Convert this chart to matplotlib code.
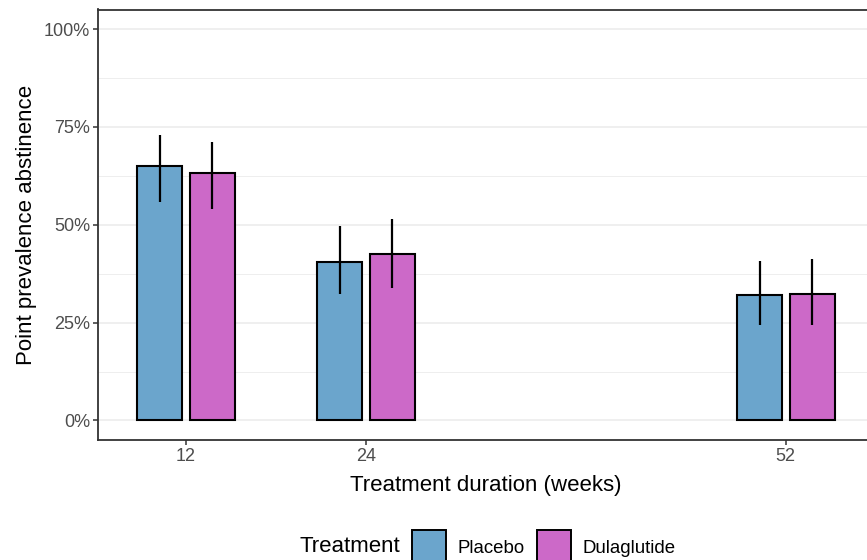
import matplotlib
matplotlib.use('Agg')
import matplotlib.pyplot as plt
from matplotlib.patches import Patch
from matplotlib.ticker import FixedLocator, FixedFormatter

plt.rcParams['font.family'] = ['Liberation Sans', 'DejaVu Sans']

weeks = [12, 24, 52]
week_labels = ['12', '24', '52']
treatments = ['Placebo', 'Dulaglutide']
colors = ['#6BA5CC', '#CC69C8']
placebo_mean = [0.650, 0.406, 0.320]
placebo_lo = [0.559, 0.322, 0.243]
placebo_hi = [0.729, 0.496, 0.408]
dula_mean = [0.631, 0.426, 0.324]
dula_lo = [0.540, 0.339, 0.244]
dula_hi = [0.712, 0.515, 0.412]
y_ticks = [0, 0.25, 0.5, 0.75, 1.0]
y_minor = [0.125, 0.375, 0.625, 0.875]
y_tick_labels = ['0%', '25%', '50%', '75%', '100%']

means = [placebo_mean, dula_mean]
los = [placebo_lo, dula_lo]
his = [placebo_hi, dula_hi]

W, H = 867, 560
fig = plt.figure(figsize=(W / 100, H / 100), dpi=100)
ax = fig.add_axes([98 / W, 1 - 440 / H, (873.5 - 98) / W, (440 - 9.5) / H])

offsets = [-1.75, 1.75]
bw = 3.0
for i, tr in enumerate(treatments):
    xs = [w + offsets[i] for w in weeks]
    ax.bar(xs, means[i], width=bw, color=colors[i], edgecolor='black',
           linewidth=1.5, zorder=3, label=tr)
    ax.vlines(xs, los[i], his[i], color='black', linewidth=1.6, zorder=4)

ax.set_xlim(6.15, 57.85)
ax.set_ylim(-0.05, 1.05)
ax.yaxis.set_major_locator(FixedLocator(y_ticks))
ax.yaxis.set_major_formatter(FixedFormatter(y_tick_labels))
ax.yaxis.set_minor_locator(FixedLocator(y_minor))
ax.xaxis.set_major_locator(FixedLocator(weeks))
ax.xaxis.set_major_formatter(FixedFormatter(week_labels))

ax.grid(axis='y', which='major', color='#EBEBEB', linewidth=1.1, zorder=0)
ax.grid(axis='y', which='minor', color='#EBEBEB', linewidth=0.6, zorder=0)
ax.set_axisbelow(True)
ax.tick_params(axis='both', which='major', length=3.3, width=1.1, color='#333333',
               labelsize=13, labelcolor='#4D4D4D', pad=2.2)
ax.tick_params(axis='y', which='minor', length=0)
for s in ax.spines.values():
    s.set_color('#333333')
    s.set_linewidth(1.3)

ax.set_xlabel('Treatment duration (weeks)', fontsize=16, labelpad=7.5)
ax.set_ylabel('Point prevalence abstinence', fontsize=16, labelpad=5)

handles = [Patch(facecolor=colors[i], edgecolor='black', linewidth=1.4) for i in range(2)]
fig.legend(handles, treatments, loc='center left',
           bbox_to_anchor=(411.7 / W, 1 - 547 / H), ncol=2, frameon=False,
           fontsize=13.4, handlelength=1.83, handleheight=2.42, handletextpad=0.64,
           columnspacing=0.64, borderpad=0, borderaxespad=0)
fig.text(300 / W, 1 - 547 / H, 'Treatment', fontsize=16, va='center', ha='left')

fig.savefig('out.png', dpi=100)
